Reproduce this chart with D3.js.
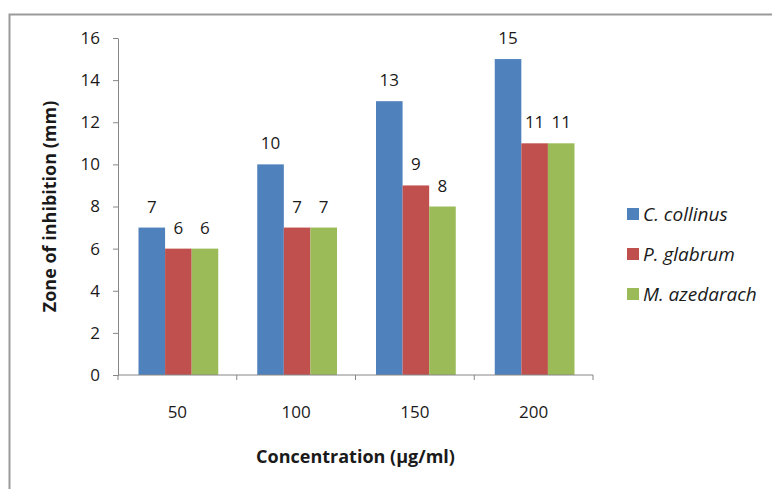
<!DOCTYPE html>
<html>
<head>
<meta charset="utf-8">
<script src="https://cdn.jsdelivr.net/npm/d3@7"></script>
<style>
  html, body { margin: 0; padding: 0; background: #fff; }
  svg { display: block; font-family: "Open Sans", Lato, sans-serif; }
</style>
</head>
<body>
<svg id="chart" width="772" height="489"></svg>
<script>
// Zone of inhibition by extract concentration
const categories = ["50", "100", "150", "200"];
const seriesNames = ["C. collinus", "P. glabrum", "M. azedarach"];
const cCollinus = [7, 10, 13, 15];
const pGlabrum = [6, 7, 9, 11];
const mAzedarach = [6, 7, 8, 11];
const yTicks = [0, 2, 4, 6, 8, 10, 12, 14, 16];
const colors = ["#4F81BD", "#C0504D", "#9BBB59"];

const seriesValues = [cCollinus, pGlabrum, mAzedarach];
const table = categories.map((c, i) => ({
  cat: c,
  vals: seriesNames.map((s, j) => ({ name: s, value: seriesValues[j][i], color: colors[j] }))
}));

const svg = d3.select("#chart");
const FONT = "'Open Sans', Lato, sans-serif";

// outer frame (top and left edges)
svg.append("path")
  .attr("d", "M9.5,489 V14.5 H772")
  .attr("fill", "none")
  .attr("stroke", "#9a9a9a")
  .attr("stroke-width", 2);

const plot = { left: 118, right: 593, top: 38, bottom: 375 };

const x = d3.scaleBand().domain(categories).range([plot.left, plot.right]);
const inner = d3.scaleBand().domain(seriesNames).range([20.5, x.bandwidth() - 18.5]);
const y = d3.scaleLinear().domain([0, 16]).range([plot.bottom, plot.top]);

// bars
const groups = svg.append("g").selectAll("g").data(table).join("g")
  .attr("transform", d => `translate(${x(d.cat)},0)`);

groups.selectAll("rect").data(d => d.vals).join("rect")
  .attr("x", d => inner(d.name))
  .attr("width", inner.bandwidth())
  .attr("y", d => y(d.value))
  .attr("height", d => y(0) - y(d.value))
  .attr("fill", d => d.color);

groups.selectAll("text").data(d => d.vals).join("text")
  .attr("x", d => inner(d.name) + inner.bandwidth() / 2)
  .attr("y", d => y(d.value) - 15)
  .attr("text-anchor", "middle")
  .attr("font-size", 17)
  .attr("fill", "#1a1a1a")
  .text(d => d.value);

// y axis
const yAxis = svg.append("g")
  .attr("transform", `translate(${plot.left},0)`)
  .call(d3.axisLeft(y).tickValues(yTicks).tickSize(5).tickPadding(13).tickSizeOuter(0));
yAxis.select(".domain").attr("stroke", "#868686");
yAxis.selectAll(".tick line").attr("stroke", "#868686");
yAxis.selectAll(".tick text").attr("font-size", 17).attr("fill", "#1a1a1a").attr("font-family", FONT);

// x axis with ticks on category boundaries
const xAxisG = svg.append("g").attr("transform", `translate(0,${plot.bottom})`);
xAxisG.append("line")
  .attr("x1", plot.left).attr("x2", plot.right)
  .attr("stroke", "#868686");
const boundaries = categories.map(c => x(c)).concat([x(categories[categories.length - 1]) + x.bandwidth()]);
xAxisG.selectAll("line.tk").data(boundaries).join("line")
  .attr("class", "tk")
  .attr("x1", d => d).attr("x2", d => d)
  .attr("y1", 0).attr("y2", 5)
  .attr("stroke", "#868686");
xAxisG.selectAll("text").data(categories).join("text")
  .attr("x", d => x(d) + x.bandwidth() / 2)
  .attr("y", 43)
  .attr("text-anchor", "middle")
  .attr("font-size", 17)
  .attr("fill", "#1a1a1a")
  .text(d => d);

// axis titles
svg.append("text")
  .attr("x", (plot.left + plot.right) / 2)
  .attr("y", 463)
  .attr("text-anchor", "middle")
  .attr("font-size", 18)
  .attr("font-weight", "bold")
  .attr("fill", "#1a1a1a")
  .text("Concentration (µg/ml)");

svg.append("text")
  .attr("transform", `translate(56,${(plot.top + plot.bottom) / 2}) rotate(-90)`)
  .attr("text-anchor", "middle")
  .attr("font-size", 18)
  .attr("font-weight", "bold")
  .attr("fill", "#1a1a1a")
  .text("Zone of inhibition (mm)");

// legend
const legend = svg.append("g").attr("transform", "translate(627,214)");
const items = legend.selectAll("g").data(seriesNames).join("g")
  .attr("transform", (d, i) => `translate(0,${i * 40})`);
items.append("rect")
  .attr("x", 0).attr("y", -6)
  .attr("width", 12).attr("height", 12)
  .attr("fill", (d, i) => colors[i]);
items.append("text")
  .attr("x", 16).attr("y", 6.5)
  .attr("font-size", 19)
  .attr("font-style", "italic")
  .attr("fill", "#1a1a1a")
  .text(d => d);
</script>
</body>
</html>
